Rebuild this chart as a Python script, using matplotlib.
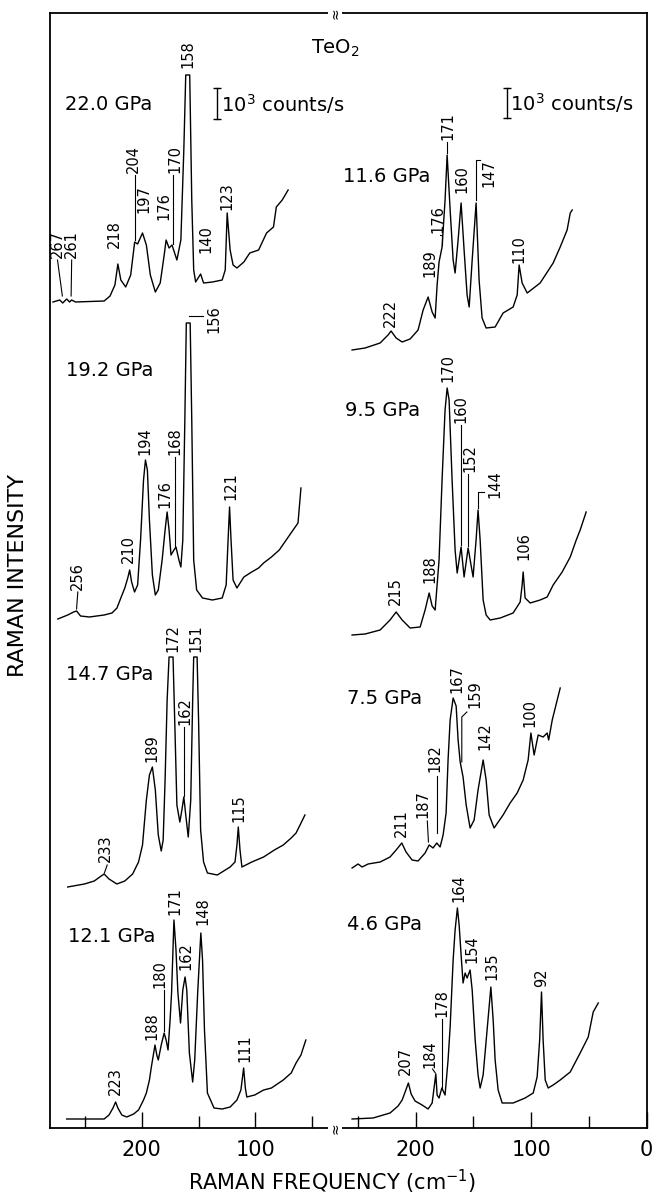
import matplotlib
matplotlib.use('Agg')
import matplotlib.pyplot as plt

# Raman spectra of TeO2 at several pressures
# frequency in cm-1, intensity above each trace's own baseline (arb. units)

# left column
freq_220 = [278.3, 272.3, 269.7, 266.2, 263.6, 261.9, 258.4, 233.2, 228.0, 223.7, 221.1, 218.5, 214.2, 209.8,
            206.3, 203.7, 199.4, 196.0, 192.5, 188.1, 183.8, 180.3, 178.6, 176.0, 173.4, 169.1, 165.6, 163.0,
            161.3, 157.8, 156.0, 154.3, 152.6, 148.2, 145.6, 137.8, 129.2, 126.5, 124.8, 122.2, 119.6, 116.2,
            110.1, 104.9, 97.1, 90.1, 84.0, 81.5, 76.3, 71.1]
int_220 = [0, 2, -1, 3, 0, 2, 0, 1, 6, 17, 38, 22, 15, 27,
           60, 58, 69, 57, 27, 10, 19, 47, 62, 54, 57, 42, 62, 152,
           227, 227, 102, 32, 20, 28, 19, 20, 22, 32, 89, 52, 37, 34,
           40, 49, 52, 69, 75, 95, 102, 112]

freq_192 = [274.0, 265.3, 260.1, 257.5, 254.0, 246.2, 233.2, 226.3, 221.9, 218.5, 215.0, 212.4, 210.7, 209.0,
            206.4, 203.7, 201.1, 198.5, 196.8, 195.1, 193.3, 190.7, 188.1, 185.5, 182.1, 179.5, 177.7, 176.0,
            174.3, 171.7, 169.9, 167.3, 165.6, 163.9, 162.1, 160.8, 157.4, 156.0, 154.3, 151.7, 146.5, 137.8,
            129.2, 125.7, 124.0, 122.7, 121.4, 119.6, 116.2, 110.1, 103.2, 97.1, 92.7, 85.8, 78.9, 72.8,
            66.7, 62.4, 59.8]
int_192 = [-3, 1, 4, 5, 0, -1, 1, 3, 8, 18, 28, 38, 46, 34,
           24, 31, 76, 136, 156, 146, 96, 41, 21, 26, 56, 86, 104, 86,
           61, 66, 69, 56, 49, 76, 196, 293, 293, 196, 56, 26, 18, 16,
           18, 31, 76, 109, 76, 36, 28, 39, 44, 48, 53, 59, 66, 76,
           86, 93, 128]

freq_147 = [265.3, 250.6, 241.9, 235.8, 233.2, 228.9, 222.0, 215.0, 208.1, 202.9, 199.4, 196.0, 193.3, 190.7,
            188.1, 185.5, 182.9, 181.2, 179.5, 177.7, 176.0, 172.5, 170.8, 169.1, 166.5, 164.7, 163.0, 161.3,
            159.1, 156.9, 155.2, 154.3, 151.3, 150.0, 148.2, 145.6, 142.2, 133.5, 122.2, 117.9, 116.2, 115.0,
            113.5, 111.8, 103.1, 92.7, 83.2, 75.4, 68.4, 64.1, 60.6, 56.3]
int_147 = [-1, 2, 5, 10, 12, 7, 2, 5, 12, 24, 41, 86, 111, 119,
           96, 51, 35, 46, 106, 186, 229, 229, 156, 81, 64, 76, 89, 71,
           49, 86, 186, 229, 229, 166, 56, 24, 13, 11, 19, 24, 41, 59,
           36, 19, 24, 29, 36, 41, 48, 53, 61, 71]

freq_121 = [266.2, 246.2, 233.2, 228.9, 225.4, 223.1, 221.1, 217.6, 213.3, 207.2, 202.9, 198.5, 196.0, 193.3,
            191.6, 188.4, 186.8, 185.5, 182.9, 180.3, 178.6, 176.9, 175.1, 173.8, 171.7, 169.9, 168.2, 165.9,
            163.9, 161.9, 160.4, 158.1, 155.2, 153.4, 150.8, 148.0, 146.5, 144.8, 142.2, 136.4, 129.2, 122.2,
            116.2, 112.7, 110.3, 108.8, 107.5, 100.5, 92.7, 85.8, 75.4, 68.4, 64.1, 59.8, 55.5]
int_121 = [0, 0, 0, 4, 11, 17, 11, 4, 2, 5, 9, 19, 26, 39,
           52, 74, 64, 59, 74, 86, 79, 69, 99, 126, 199, 169, 126, 96,
           129, 142, 129, 66, 37, 59, 126, 186, 159, 89, 26, 11, 10, 12,
           19, 29, 51, 31, 22, 24, 29, 31, 39, 46, 56, 64, 79]

# right column
freq_116 = [255.2, 243.9, 230.9, 224.0, 221.4, 217.0, 211.8, 204.9, 198.0, 193.6, 189.3, 185.8, 183.2, 181.5,
            179.8, 177.2, 174.6, 172.8, 170.2, 167.6, 165.9, 163.3, 160.7, 158.1, 155.5, 153.7, 151.1, 147.7,
            145.1, 142.5, 139.0, 131.2, 124.3, 115.6, 112.1, 110.4, 107.8, 103.4, 92.2, 80.9, 74.8, 68.8,
            66.1, 64.4]
int_116 = [0, 2, 7, 15, 19, 12, 8, 11, 20, 40, 53, 38, 32, 65,
           88, 103, 150, 195, 140, 90, 77, 110, 147, 100, 55, 43, 90, 147,
           70, 32, 22, 23, 37, 43, 55, 85, 67, 57, 67, 87, 103, 120,
           137, 140]

freq_95 = [255.2, 243.9, 230.9, 222.3, 217.0, 211.8, 204.9, 196.2, 191.9, 188.4, 185.8, 183.2, 179.8, 177.2,
           174.6, 172.8, 171.1, 168.5, 165.9, 164.1, 160.7, 158.1, 154.6, 150.3, 147.7, 146.0, 144.2, 141.6,
           139.0, 135.5, 126.8, 115.6, 109.5, 107.8, 106.9, 105.2, 100.8, 92.2, 86.1, 80.9, 73.1, 66.1,
           60.9, 57.5, 52.3]
int_95 = [0, 1, 5, 15, 23, 15, 7, 8, 25, 42, 29, 25, 75, 155,
          225, 247, 235, 155, 85, 62, 88, 58, 87, 58, 95, 125, 95, 35,
          20, 15, 17, 22, 33, 50, 63, 37, 32, 35, 38, 50, 63, 78,
          95, 105, 123]

freq_75 = [255.2, 250.0, 246.5, 241.3, 230.9, 222.3, 217.0, 212.1, 208.4, 203.2, 198.0, 191.9, 188.4, 185.0,
           181.8, 178.9, 176.3, 173.7, 172.0, 170.2, 167.6, 165.0, 163.3, 161.5, 159.0, 156.3, 152.9, 149.4,
           146.0, 141.6, 139.0, 136.4, 132.1, 124.3, 118.2, 112.1, 106.9, 102.6, 100.2, 97.4, 93.9, 89.6,
           86.1, 84.8, 81.7, 77.4, 74.8]
int_75 = [0, 4, 1, 4, 6, 11, 18, 25, 16, 8, 7, 15, 23, 20,
          25, 21, 33, 55, 108, 148, 170, 162, 128, 106, 91, 63, 40, 48,
          78, 108, 88, 53, 40, 53, 65, 75, 88, 108, 135, 113, 133, 131,
          135, 128, 148, 168, 180]

freq_46 = [255.2, 237.0, 222.3, 215.3, 211.8, 209.2, 206.4, 204.0, 200.6, 194.5, 189.3, 185.8, 182.6, 181.5,
           179.8, 177.4, 174.6, 172.0, 170.2, 167.6, 165.9, 163.9, 162.4, 160.7, 159.0, 157.2, 155.5, 152.9,
           151.1, 148.5, 146.0, 144.2, 141.6, 138.4, 134.9, 132.9, 131.2, 128.6, 125.1, 115.6, 105.2, 98.2,
           94.8, 92.6, 91.0, 89.6, 87.8, 85.2, 80.9, 74.8, 66.1, 57.5, 50.5, 46.2, 41.8]
int_46 = [0, 1, 6, 13, 19, 27, 36, 25, 18, 14, 10, 16, 45, 24,
          21, 31, 24, 59, 92, 159, 189, 211, 194, 164, 136, 146, 141, 149,
          129, 79, 44, 31, 44, 86, 132, 99, 59, 29, 16, 16, 21, 26,
          42, 79, 127, 79, 39, 31, 34, 39, 47, 66, 82, 107, 116]

# peak labels: (text, frequency, height above baseline)
labels_220 = [('267', 274.3, 44), ('261', 261.8, 44), ('218', 224.6, 54), ('204', 207.8, 129), ('197', 198.5, 89),
              ('176', 180.3, 82), ('170', 171.1, 129), ('158', 159.5, 234), ('140', 143.6, 49), ('123', 124.8, 92)]
labels_192 = [('256', 256.4, 26), ('210', 211.6, 53), ('194', 197.1, 161), ('176', 179.7, 108), ('168', 171.1, 161),
              ('156', 136.4, 283), ('121', 121.9, 116)]
labels_147 = [('233', 231.8, 24), ('189', 191.3, 124), ('172', 172.5, 234), ('162', 162.4, 161), ('151', 152.3, 234),
              ('115', 114.7, 64)]
labels_121 = [('223', 223.7, 24), ('188', 191.3, 79), ('180', 184.1, 131), ('171', 171.1, 204), ('162', 161.0, 149),
              ('148', 146.5, 194), ('111', 109.0, 57)]
labels_116 = [('222', 222.3, 23), ('189', 187.6, 73), ('176', 180.4, 117), ('171', 171.7, 210), ('160', 160.1, 157),
              ('147', 137.0, 163), ('110', 110.4, 87)]
labels_95 = [('215', 217.9, 30), ('188', 187.6, 52), ('170', 171.7, 253), ('160', 160.9, 212), ('152', 152.9, 163),
             ('144', 131.2, 137), ('106', 106.6, 75)]
labels_75 = [('211', 212.1, 31), ('187', 193.4, 50), ('182', 183.2, 96), ('167', 164.4, 175), ('159', 148.5, 160),
             ('142', 139.9, 118), ('100', 100.8, 141)]
labels_46 = [('207', 209.3, 44), ('184', 187.6, 51), ('178', 177.4, 102), ('164', 163.0, 217), ('154', 151.4, 156),
             ('135', 134.0, 139), ('92', 90.7, 132)]

# leader lines from labels to peaks
leaders_220 = [([274.3, 270.0], [42, 6]), ([261.8, 262.3], [42, 6]), ([205.7, 205.7], [127, 62]), ([172.5, 172.5], [127, 58])]
leaders_192 = [([256.4, 257.5], [24, 7]), ([170.8, 170.8], [159, 70]), ([158.0, 146.0], [300, 300])]
leaders_147 = [([230.5, 233.0], [21, 13]), ([162.9, 162.9], [159, 90])]
leaders_121 = [([180.3, 180.3], [129, 88])]
leaders_116 = [([179.0, 177.4, 177.4], [115, 115, 105]), ([172.6, 172.6], [208, 197]), ([144.0, 148.0, 148.0], [190, 190, 150])]
leaders_95 = [([160.7, 160.7], [210, 90]), ([154.3, 154.3], [161, 89]), ([146.0, 146.0, 140.5], [127, 143, 143])]
leaders_75 = [([190.0, 189.0], [47, 26]), ([181.8, 181.8], [92, 35]), ([155.7, 160.1, 160.1], [156, 151, 106])]
leaders_46 = [([177.4, 177.4], [100, 30]), ([185.5, 183.0], [50, 46])]

pressures_left = ['22.0 GPa', '19.2 GPa', '14.7 GPa', '12.1 GPa']
pressures_right = ['11.6 GPa', '9.5 GPa', '7.5 GPa', '4.6 GPa']

plt.rcParams['font.family'] = ['DejaVu Sans']

fig = plt.figure(figsize=(6.55, 11.96), dpi=100)
W, H = 655.0, 1196.0
bot = (H - 1128) / H
hgt = (1128 - 13) / H
axl = fig.add_axes([50 / W, bot, (335 - 50) / W, hgt])
axr = fig.add_axes([335 / W, bot, (646.5 - 335) / W, hgt])
axr.patch.set_visible(False)


def draw_spectrum(ax, freq, inten, base, labels, leaders):
    ax.plot(freq, [v + base for v in inten], color='black', lw=1.0)
    for txt, f, r in labels:
        ax.text(f, r + base, txt, rotation=90, ha='center', va='bottom', fontsize=10.5)
    for fs, rs in leaders:
        ax.plot(fs, [r + base for r in rs], color='black', lw=0.8)


left_set = [(freq_220, int_220, 826, labels_220, leaders_220),
            (freq_192, int_192, 512, labels_192, leaders_192),
            (freq_147, int_147, 242, labels_147, leaders_147),
            (freq_121, int_121, 9, labels_121, leaders_121)]
right_set = [(freq_116, int_116, 778, labels_116, leaders_116),
             (freq_95, int_95, 493, labels_95, leaders_95),
             (freq_75, int_75, 260, labels_75, leaders_75),
             (freq_46, int_46, 9, labels_46, leaders_46)]

for s in left_set:
    draw_spectrum(axl, *s)
for s in right_set:
    draw_spectrum(axr, *s)

# pressure labels
for txt, (f, h) in zip(pressures_left, [(267.9, 1023), (266.5, 758), (266.5, 453), (265.3, 192)]):
    axl.text(f, h, txt, ha='left', va='center', fontsize=14)
for txt, (f, h) in zip(pressures_right, [(263.0, 952), (261.3, 718), (259.8, 430), (259.8, 203)]):
    axr.text(f, h, txt, ha='left', va='center', fontsize=14)

# intensity scale bars
axl.plot([133.5, 133.5], [1009, 1040], color='black', lw=1, marker='_', ms=6)
axl.text(130.5, 1024, r'10$^3$ counts/s', ha='left', va='center', fontsize=14)
axr.plot([121.1, 121.1], [1010, 1040], color='black', lw=1, marker='_', ms=6)
axr.text(118.5, 1025, r'10$^3$ counts/s', ha='left', va='center', fontsize=14)

axl.set_xlim(280.9, 29.8)
axr.set_xlim(270.0, 0.0)
for ax, majors in ((axl, [200, 100]), (axr, [200, 100, 0])):
    ax.set_ylim(0, 1115)
    ax.set_yticks([])
    ax.set_xticks(majors)
    ax.set_xticks([250, 150, 50], minor=True)
    ax.tick_params(axis='x', which='major', direction='in', length=11.5, width=1, labelsize=15, pad=9, top=False)
    ax.tick_params(axis='x', which='minor', direction='in', length=8.5, width=1, top=False)
    for sp in ax.spines.values():
        sp.set_linewidth(1.3)
axl.spines['right'].set_visible(False)
axr.spines['left'].set_visible(False)

# axis break marks
for yb in (1 - 1128 / H, 1 - 13 / H):
    fig.text(335 / W, yb, '\u2248', rotation=90, ha='center', va='center', fontsize=10,
             bbox=dict(facecolor='white', edgecolor='none', pad=0.3))

fig.text(335 / W, 1 - 48 / H, 'TeO$_2$', ha='center', va='center', fontsize=14)
fig.text(332 / W, 1 - 1182 / H, 'RAMAN FREQUENCY (cm$^{-1}$)', ha='center', va='center', fontsize=15)
fig.text(18 / W, 1 - 575 / H, 'RAMAN INTENSITY', rotation=90, ha='center', va='center', fontsize=16)

fig.savefig('out.png', dpi=100)
